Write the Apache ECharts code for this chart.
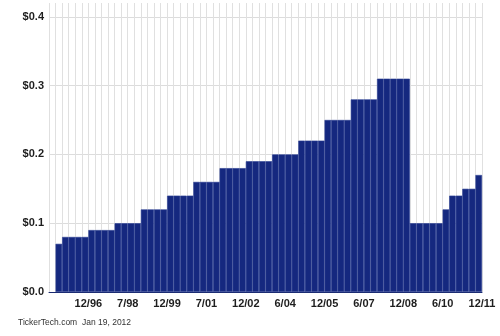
<!DOCTYPE html>
<html>
<head>
<meta charset="utf-8">
<script src="https://cdn.jsdelivr.net/npm/echarts@6/dist/echarts.min.js"></script>
<style>
html,body{margin:0;padding:0;background:#fff;}
#chart{width:500px;height:336px;}
</style>
</head>
<body>
<div id="chart"></div>
<script>
// Quarterly columns, Q3 1995 .. Q4 2011
const quarters = [
  "Q3 95","Q4 95","Q1 96","Q2 96","Q3 96","Q4 96",
  "Q1 97","Q2 97","Q3 97","Q4 97","Q1 98","Q2 98",
  "Q3 98","Q4 98","Q1 99","Q2 99","Q3 99","Q4 99",
  "Q1 00","Q2 00","Q3 00","Q4 00","Q1 01","Q2 01",
  "Q3 01","Q4 01","Q1 02","Q2 02","Q3 02","Q4 02",
  "Q1 03","Q2 03","Q3 03","Q4 03","Q1 04","Q2 04",
  "Q3 04","Q4 04","Q1 05","Q2 05","Q3 05","Q4 05",
  "Q1 06","Q2 06","Q3 06","Q4 06","Q1 07","Q2 07",
  "Q3 07","Q4 07","Q1 08","Q2 08","Q3 08","Q4 08",
  "Q1 09","Q2 09","Q3 09","Q4 09","Q1 10","Q2 10",
  "Q3 10","Q4 10","Q1 11","Q2 11","Q3 11","Q4 11"
];
const dividends = [
  null, 0.07, 0.08, 0.08, 0.08, 0.08,
  0.09, 0.09, 0.09, 0.09, 0.10, 0.10,
  0.10, 0.10, 0.12, 0.12, 0.12, 0.12,
  0.14, 0.14, 0.14, 0.14, 0.16, 0.16,
  0.16, 0.16, 0.18, 0.18, 0.18, 0.18,
  0.19, 0.19, 0.19, 0.19, 0.20, 0.20,
  0.20, 0.20, 0.22, 0.22, 0.22, 0.22,
  0.25, 0.25, 0.25, 0.25, 0.28, 0.28,
  0.28, 0.28, 0.31, 0.31, 0.31, 0.31,
  0.31, 0.10, 0.10, 0.10, 0.10, 0.10,
  0.12, 0.14, 0.14, 0.15, 0.15, 0.17
];
// Date labels placed at column boundaries 6, 12, ... 66
const tickLabels = ["12/96","7/98","12/99","7/01","12/02","6/04","12/05","6/07","12/08","6/10","12/11"];
const yTicks = ["$0.0","$0.1","$0.2","$0.3","$0.4"];
const footer = "TickerTech.com  Jan 19, 2012";

const chart = echarts.init(document.getElementById('chart'), null, {renderer:'canvas'});
const labelFont = {fontFamily:'Liberation Sans, Arial, sans-serif', fontWeight:'bold', fontSize:11, color:'#1e1e1e'};

chart.setOption({
  animation:false,
  backgroundColor:'#fff',
  grid:{left:49, right:18, top:3, bottom:44, containLabel:false},
  xAxis:[
    {
      type:'category',
      data:quarters,
      boundaryGap:true,
      axisLine:{show:true, lineStyle:{color:'#1a2a70', width:1}},
      axisTick:{show:false},
      axisLabel:{show:false},
      splitLine:{show:true, interval:0, lineStyle:{color:'#e0e0e0', width:1}}
    },
    {
      type:'value',
      position:'bottom',
      min:0, max:quarters.length, interval:6,
      axisLine:{show:false}, axisTick:{show:false}, splitLine:{show:false},
      axisLabel:Object.assign({
        margin:6,
        showMinLabel:false,
        formatter:function(v){ const i = Math.round(v/6)-1; return (i>=0 && i<tickLabels.length) ? tickLabels[i] : ''; }
      }, labelFont)
    }
  ],
  yAxis:{
    type:'value',
    min:0, max:0.42, interval:0.1,
    axisLine:{show:false}, axisTick:{show:false},
    axisLabel:Object.assign({
      margin:5,
      showMaxLabel:false,
      formatter:function(v){ const i = Math.round(v*10); return yTicks[i] !== undefined ? yTicks[i] : ''; }
    }, labelFont),
    splitLine:{show:true, lineStyle:{color:['#dcdcdc','#dcdcdc','#dcdcdc','#dcdcdc','#dcdcdc','rgba(0,0,0,0)'], width:1}}
  },
  series:[{
    type:'bar',
    xAxisIndex:0,
    data:dividends,
    barCategoryGap:'0%',
    itemStyle:{color:'#15287f', borderColor:'#2b3f94', borderWidth:0.6}
  }],
  graphic:[{
    type:'text', left:18, top:318,
    style:{text:footer, fontFamily:'Liberation Sans, Arial, sans-serif', fontSize:8.5, fill:'#333'}
  }]
});
</script>
</body>
</html>
